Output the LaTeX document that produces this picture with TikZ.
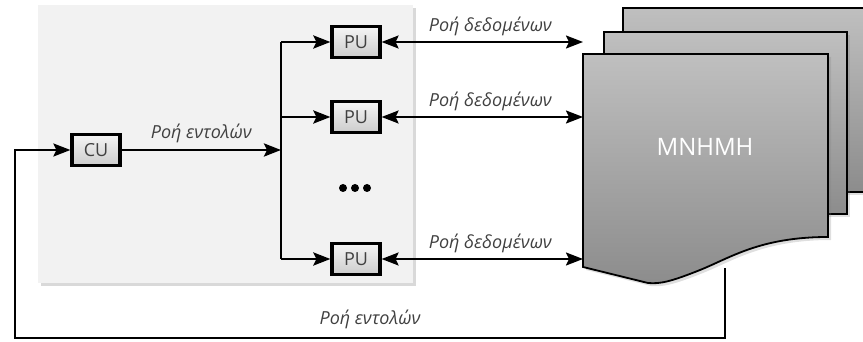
\documentclass[tikz,border=0pt]{standalone}
\usepackage{fontspec}
\setmainfont{Open Sans}
\usetikzlibrary{arrows.meta, positioning, shadows}
\tikzset{flowtip/.tip={Stealth[length=17pt,width=13pt,inset=3pt]}}

\begin{document}
\begin{tikzpicture}[x=1pt, y=-1pt, line join=miter,
    %Style
    unit/.style={draw, line width=3.2pt, top color=black!4, bottom color=black!20,
      minimum width=48pt, minimum height=31pt, inner sep=0pt, text=black!75,
      font=\fontsize{18}{21}\selectfont},
    cmd flow/.style={line width=2.8pt, -flowtip},
    data flow/.style={line width=2pt, flowtip-flowtip},
    flow text/.style={font=\itshape\fontsize{18}{21}\selectfont, text=black!75},
    sheet/.style={draw, line width=1.8pt, top color=sheettop, bottom color=sheetbottom,
      drop shadow={opacity=0.25, shadow xshift=3pt, shadow yshift=-3pt}}]
    %Colors
    \colorlet{panelcolor}{black!5}
    \colorlet{sheettop}{black!25}
    \colorlet{sheetbottom}{black!45}
    \useasboundingbox (0,0) rectangle (863,342);
    \clip (0,0) rectangle (863,342);

    %The graphic
    \fill[panelcolor, drop shadow={opacity=0.3, shadow xshift=3pt, shadow yshift=-3pt}]
      (38,5) rectangle (413,283);

    \node[unit] (cu) at (96,150) {CU};
    \node[unit] (pu1) at (356,42) {PU};
    \node[unit] (pu2) at (356,117) {PU};
    \node[unit] (pu3) at (356,259) {PU};
    \foreach \dx in {-12,0,12}
      \fill (355+\dx,188) circle [radius=4];

    \coordinate (split) at (281,150);
    \coordinate (fbleft) at (15,338);
    \coordinate (memout) at (725,268);
    \coordinate (memleft) at (583,0);

    % feedback from memory to CU
    \draw[line width=2.2pt, -flowtip] (memout) |- node[pos=0.75, above=5pt, flow text]{Ροή εντολών}
      (fbleft) |- (cu.west);

    % memory sheets
    \draw[sheet] (623,8) rectangle (880,192);
    \draw[sheet] (604,32) rectangle (847,214);
    \draw[sheet] (583,54) -- (828,54) -- (828,237)
      .. controls (760,237) and (730,258) .. (700,270)
      .. controls (670,282) and (660,284) .. (648,283) -- (583,267) -- cycle;
    \node[text=white, font=\fontsize{24}{28}\selectfont] (mem) at (705,147) {MNHMH};

    % control unit to processing units
    \draw[cmd flow] (cu) -- node[above=2pt, flow text]{Ροή εντολών} (split);
    \draw[line width=2.8pt] (split |- pu1) -- (split |- pu3);
    \foreach \p in {pu1,pu2,pu3}
      \draw[cmd flow] (split |- \p) -- (\p);

    % data to memory
    \foreach \p in {pu1,pu2,pu3}
      \draw[data flow] (\p) -- node[pos=0.54, above=2pt, flow text]{Ροή δεδομένων} (\p -| memleft);
\end{tikzpicture}
\end{document}
